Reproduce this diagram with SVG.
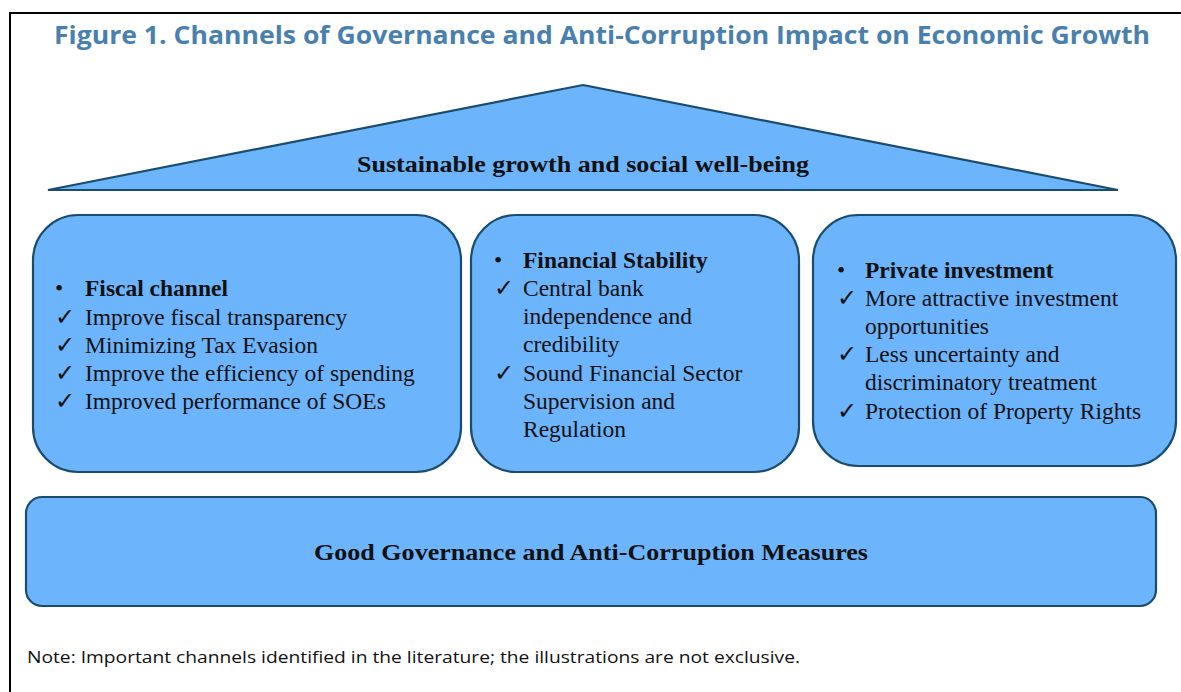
<svg xmlns="http://www.w3.org/2000/svg" width="1181" height="692" viewBox="0 0 1181 692">
<style>
.shape{fill:#6cb4fc;stroke:#1a4d6c;stroke-width:2.2}
.t{font-family:"Liberation Serif","Times New Roman",serif;font-size:23.5px;fill:#111}
.b{font-weight:bold}
.h{font-family:"Liberation Serif","Times New Roman",serif;font-size:24px;font-weight:bold;fill:#111}
</style>
<rect x="0" y="0" width="1181" height="692" fill="#fff"/>
<g id="frame">
<line x1="10" y1="13" x2="1181" y2="13" stroke="#000" stroke-width="2"/>
<line x1="10" y1="12" x2="10" y2="692" stroke="#000" stroke-width="2"/>
</g>
<text id="title" x="602" y="44" text-anchor="middle" font-family="'Open Sans','Noto Sans',sans-serif" font-weight="bold" font-size="25" fill="#4a80ae" textLength="1096" lengthAdjust="spacingAndGlyphs">Figure 1. Channels of Governance and Anti-Corruption Impact on Economic Growth</text>
<g id="roof">
<polygon class="shape" points="583,85 1118,190 48,190"/>
<text class="h" x="583" y="172" text-anchor="middle" textLength="452" lengthAdjust="spacingAndGlyphs">Sustainable growth and social well-being</text>
</g>
<g id="fiscal">
<rect class="shape" x="33" y="215" width="428" height="257" rx="45"/>
<text class="t"><tspan x="55" y="296">•</tspan><tspan x="85" y="296" class="b">Fiscal channel</tspan>
<tspan x="55" y="325">✓</tspan><tspan x="85" y="325">Improve fiscal transparency</tspan>
<tspan x="55" y="353">✓</tspan><tspan x="85" y="353">Minimizing Tax Evasion</tspan>
<tspan x="55" y="381">✓</tspan><tspan x="85" y="381">Improve the efficiency of spending</tspan>
<tspan x="55" y="409">✓</tspan><tspan x="85" y="409">Improved performance of SOEs</tspan></text>
</g>
<g id="financial">
<rect class="shape" x="471" y="215" width="328" height="257" rx="45"/>
<text class="t"><tspan x="494" y="268">•</tspan><tspan x="523" y="268" class="b">Financial Stability</tspan>
<tspan x="494" y="296">✓</tspan><tspan x="523" y="296">Central bank</tspan>
<tspan x="523" y="324">independence and</tspan>
<tspan x="523" y="352">credibility</tspan>
<tspan x="494" y="381">✓</tspan><tspan x="523" y="381">Sound Financial Sector</tspan>
<tspan x="523" y="409">Supervision and</tspan>
<tspan x="523" y="437">Regulation</tspan></text>
</g>
<g id="private">
<rect class="shape" x="813" y="215" width="363" height="251" rx="45"/>
<text class="t"><tspan x="837" y="278">•</tspan><tspan x="865" y="278" class="b">Private investment</tspan>
<tspan x="837" y="306">✓</tspan><tspan x="865" y="306">More attractive investment</tspan>
<tspan x="865" y="334">opportunities</tspan>
<tspan x="837" y="362">✓</tspan><tspan x="865" y="362">Less uncertainty and</tspan>
<tspan x="865" y="390">discriminatory treatment</tspan>
<tspan x="837" y="419">✓</tspan><tspan x="865" y="419">Protection of Property Rights</tspan></text>
</g>
<g id="foundation">
<rect class="shape" x="26" y="497" width="1130" height="109" rx="16"/>
<text class="h" x="591" y="560" text-anchor="middle" textLength="554" lengthAdjust="spacingAndGlyphs">Good Governance and Anti-Corruption Measures</text>
</g>
<g id="connectors"></g>
<text id="note" x="27" y="663" font-family="'Open Sans','Noto Sans',sans-serif" font-size="17" fill="#111" textLength="773" lengthAdjust="spacingAndGlyphs">Note: Important channels identified in the literature; the illustrations are not exclusive.</text>
</svg>
